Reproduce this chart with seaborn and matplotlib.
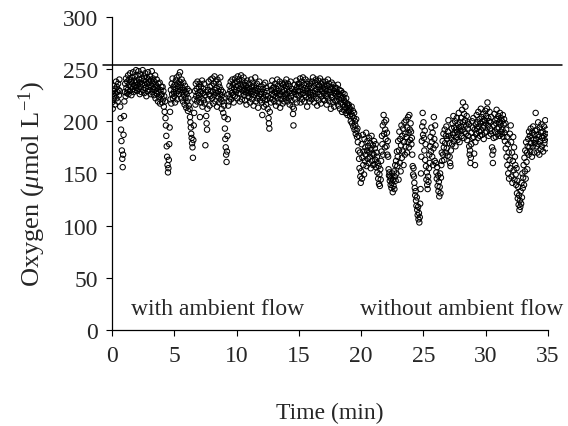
import numpy as np
import pandas as pd
import matplotlib
matplotlib.use("Agg")
import matplotlib.pyplot as plt
import seaborn as sns

# Oxygen readings (umol/L), one list per minute, ~30 readings per minute
o2_m00 = [218, 226, 212, 229, 221, 234, 224, 216, 231, 227, 238, 222, 233, 228, 219, 236, 230, 225, 240, 229, 214, 203, 192, 181, 172, 164, 156, 168, 187, 205]
o2_m01 = [219, 228, 236, 224, 241, 232, 227, 238, 230, 244, 226, 235, 240, 229, 246, 233, 238, 225, 242, 236, 231, 247, 228, 239, 234, 243, 230, 237, 249, 232]
o2_m02 = [238, 229, 244, 235, 248, 231, 240, 226, 237, 245, 233, 228, 241, 236, 249, 230, 239, 243, 227, 235, 246, 232, 238, 224, 242, 236, 229, 247, 233, 240]
o2_m03 = [237, 230, 243, 226, 239, 234, 248, 228, 236, 241, 231, 225, 238, 233, 244, 222, 235, 229, 240, 226, 232, 219, 236, 228, 223, 237, 217, 230, 225, 233]
o2_m04 = [226, 218, 233, 221, 229, 214, 224, 209, 219, 203, 196, 186, 176, 166, 158, 151, 155, 163, 178, 194, 209, 221, 230, 217, 236, 226, 241, 222, 233, 228]
o2_m05 = [224, 235, 218, 231, 239, 227, 242, 221, 236, 229, 233, 244, 226, 238, 247, 230, 235, 222, 240, 228, 232, 219, 237, 225, 230, 216, 234, 222, 228, 213]
o2_m06 = [226, 219, 231, 210, 222, 215, 229, 212, 204, 199, 194, 188, 184, 179, 175, 165, 182, 196, 208, 221, 229, 216, 236, 224, 231, 219, 238, 227, 222, 233]
o2_m07 = [225, 236, 204, 229, 218, 233, 222, 239, 214, 227, 231, 220, 236, 217, 225, 177, 228, 205, 198, 192, 212, 230, 221, 238, 226, 215, 233, 224, 240, 229]
o2_m08 = [234, 222, 241, 228, 217, 236, 225, 243, 230, 219, 238, 227, 232, 214, 240, 224, 229, 236, 218, 233, 226, 242, 221, 230, 212, 225, 219, 228, 208, 222]
o2_m09 = [215, 204, 193, 183, 175, 168, 161, 171, 186, 202, 215, 226, 219, 234, 223, 229, 238, 221, 232, 227, 240, 225, 235, 218, 231, 237, 224, 241, 228, 233]
o2_m10 = [230, 238, 222, 243, 234, 227, 240, 231, 219, 236, 226, 244, 233, 221, 239, 229, 235, 242, 225, 231, 220, 237, 228, 234, 216, 230, 239, 224, 232, 227]
o2_m11 = [236, 223, 231, 218, 229, 240, 226, 233, 221, 237, 228, 215, 234, 225, 230, 242, 219, 232, 227, 236, 222, 229, 213, 231, 224, 238, 226, 220, 233, 228]
o2_m12 = [226, 218, 206, 231, 222, 235, 214, 228, 220, 237, 225, 216, 232, 221, 229, 212, 224, 203, 198, 193, 209, 222, 234, 218, 230, 226, 239, 221, 232, 225]
o2_m13 = [233, 219, 228, 236, 224, 215, 231, 227, 240, 222, 234, 218, 229, 225, 238, 213, 226, 232, 221, 236, 228, 217, 235, 224, 230, 219, 237, 226, 222, 234]
o2_m14 = [240, 225, 231, 219, 236, 228, 222, 234, 216, 229, 238, 224, 220, 231, 227, 214, 207, 196, 212, 228, 235, 221, 230, 226, 239, 218, 233, 225, 229, 236]
o2_m15 = [224, 236, 229, 241, 218, 233, 226, 238, 221, 230, 242, 227, 235, 219, 232, 225, 240, 223, 229, 236, 214, 231, 227, 238, 222, 234, 219, 228, 236, 225]
o2_m16 = [232, 221, 238, 227, 242, 224, 234, 218, 229, 237, 226, 240, 222, 231, 215, 235, 228, 239, 220, 233, 226, 241, 230, 217, 236, 224, 229, 238, 221, 232]
o2_m17 = [227, 235, 220, 231, 238, 224, 229, 216, 234, 226, 240, 222, 230, 236, 219, 228, 233, 212, 225, 237, 223, 231, 218, 235, 227, 214, 229, 232, 220, 226]
o2_m18 = [232, 219, 228, 224, 235, 215, 226, 221, 230, 212, 225, 218, 229, 222, 209, 227, 216, 223, 211, 220, 226, 214, 218, 208, 222, 213, 217, 206, 215, 210]
o2_m19 = [216, 209, 213, 205, 211, 200, 207, 214, 198, 205, 210, 195, 203, 208, 192, 200, 196, 188, 202, 191, 185, 193, 180, 172, 186, 164, 155, 170, 147, 141]
o2_m20 = [152, 178, 145, 165, 187, 158, 171, 149, 183, 162, 175, 168, 189, 157, 172, 181, 164, 176, 160, 184, 170, 166, 179, 155, 173, 186, 162, 169, 177, 158]
o2_m21 = [168, 181, 159, 174, 163, 178, 156, 170, 166, 151, 160, 145, 157, 140, 149, 138, 154, 144, 162, 171, 186, 178, 196, 168, 206, 188, 199, 175, 192, 183]
o2_m22 = [201, 176, 189, 168, 181, 166, 154, 148, 151, 143, 147, 139, 145, 136, 141, 150, 132, 144, 138, 152, 135, 147, 158, 143, 162, 150, 171, 157, 166, 181]
o2_m23 = [144, 172, 190, 160, 183, 152, 177, 196, 165, 186, 171, 193, 158, 180, 199, 168, 188, 176, 201, 185, 170, 194, 180, 204, 189, 175, 206, 192, 182, 198]
o2_m24 = [190, 178, 184, 168, 157, 149, 155, 147, 141, 136, 129, 133, 124, 119, 127, 115, 110, 118, 106, 112, 103, 108, 121, 135, 150, 166, 181, 195, 208, 187]
o2_m25 = [199, 184, 172, 191, 163, 178, 157, 144, 151, 139, 135, 147, 142, 155, 168, 160, 176, 185, 171, 194, 180, 166, 189, 158, 174, 204, 183, 162, 196, 177]
o2_m26 = [160, 151, 145, 156, 138, 148, 133, 142, 128, 137, 150, 131, 146, 158, 170, 162, 181, 168, 188, 175, 163, 192, 179, 170, 186, 195, 174, 183, 167, 190]
o2_m27 = [201, 186, 179, 166, 160, 157, 172, 184, 193, 178, 198, 187, 205, 181, 194, 189, 200, 176, 192, 185, 203, 190, 182, 197, 188, 208, 194, 180, 199, 191]
o2_m28 = [195, 203, 186, 211, 192, 218, 199, 184, 207, 190, 201, 214, 188, 196, 205, 182, 193, 199, 186, 197, 176, 168, 172, 160, 165, 178, 189, 200, 184, 194]
o2_m29 = [203, 185, 169, 192, 158, 180, 197, 188, 206, 193, 199, 184, 209, 195, 190, 202, 186, 198, 212, 191, 204, 187, 200, 194, 207, 183, 196, 201, 189, 210]
o2_m30 = [198, 205, 190, 212, 218, 196, 203, 186, 200, 209, 193, 199, 188, 204, 191, 175, 168, 160, 172, 184, 196, 207, 190, 201, 185, 198, 211, 193, 202, 188]
o2_m31 = [205, 194, 199, 186, 208, 197, 190, 203, 188, 200, 192, 206, 185, 197, 202, 189, 181, 198, 174, 192, 166, 185, 158, 178, 150, 170, 145, 163, 188, 155]
o2_m32 = [196, 180, 147, 170, 141, 162, 185, 153, 175, 144, 166, 158, 149, 139, 155, 131, 143, 126, 137, 120, 129, 115, 124, 118, 133, 121, 141, 127, 150, 136]
o2_m33 = [146, 158, 139, 165, 152, 172, 145, 180, 161, 170, 154, 176, 183, 168, 190, 175, 186, 171, 193, 179, 184, 166, 189, 176, 195, 182, 170, 187, 179, 191]
o2_m34 = [208, 183, 176, 192, 170, 187, 199, 178, 185, 168, 194, 181, 173, 189, 197, 176, 184, 190, 171, 186, 195, 179, 182, 201, 188, 174, 192, 185]

minute_lists = [o2_m00, o2_m01, o2_m02, o2_m03, o2_m04, o2_m05, o2_m06, o2_m07,
                o2_m08, o2_m09, o2_m10, o2_m11, o2_m12, o2_m13, o2_m14, o2_m15,
                o2_m16, o2_m17, o2_m18, o2_m19, o2_m20, o2_m21, o2_m22, o2_m23,
                o2_m24, o2_m25, o2_m26, o2_m27, o2_m28, o2_m29, o2_m30, o2_m31,
                o2_m32, o2_m33, o2_m34]
readings_per_minute = 30

saturation_level = 254          # horizontal reference line
x_ticks = [0, 5, 10, 15, 20, 25, 30, 35]
y_ticks = [0, 50, 100, 150, 200, 250, 300]
label_with = "with ambient flow"
label_without = "without ambient flow"

times, values = [], []
for minute, seg in enumerate(minute_lists):
    for i, v in enumerate(seg):
        times.append(minute + i / readings_per_minute)
        values.append(v)
df = pd.DataFrame({"time": times, "oxygen": values})

sns.set_style("ticks")
plt.rcParams["font.family"] = ["Liberation Serif", "DejaVu Serif"]
plt.rcParams["mathtext.fontset"] = "custom"
plt.rcParams["mathtext.rm"] = "Liberation Serif"
plt.rcParams["mathtext.it"] = "Liberation Serif:italic"

fig, ax = plt.subplots(figsize=(5.68, 4.27), dpi=100)
fig.subplots_adjust(left=0.197, right=0.965, bottom=0.225, top=0.958)

sns.scatterplot(data=df, x="time", y="oxygen", ax=ax, marker="o", s=15,
                fc="none", ec="black", linewidth=0.75, legend=False)

ax.plot([-0.7, 36.1], [saturation_level, saturation_level], color="black",
        lw=1.1, clip_on=False, zorder=3)

ax.set_xlim(0, 35)
ax.set_ylim(0, 300)
ax.set_xticks(x_ticks)
ax.set_yticks(y_ticks)
ax.tick_params(axis="both", direction="out", length=4, width=0.8, labelsize=17, color="black")
ax.tick_params(axis="x", pad=7)
ax.tick_params(axis="y", pad=6)
for s in ["top", "right"]:
    ax.spines[s].set_visible(False)
for s in ["left", "bottom"]:
    ax.spines[s].set_linewidth(0.9)
    ax.spines[s].set_color("black")

ax.set_xlabel("Time (min)", fontsize=17, labelpad=26)
ax.set_ylabel(r"Oxygen ($\mathit{\mu}$mol L$^{\mathrm{ -1}}$)", fontsize=19)
ax.yaxis.set_label_coords(-0.146, 0.468)

ax.text(1.5, 21, label_with, fontsize=17, va="center", ha="left")
ax.text(19.9, 21, label_without, fontsize=17, va="center", ha="left")

fig.savefig("out.png", dpi=100)
